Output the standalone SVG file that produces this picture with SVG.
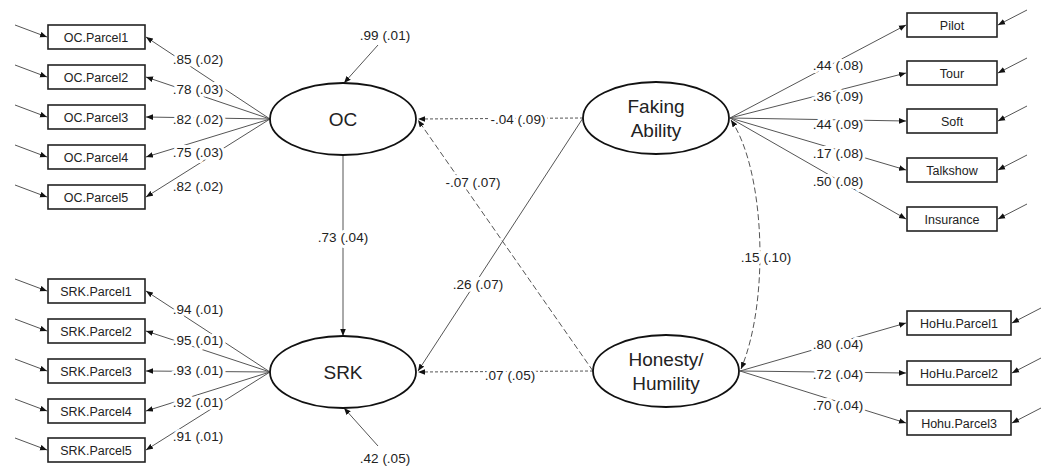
<svg xmlns="http://www.w3.org/2000/svg" width="1050" height="475" viewBox="0 0 1050 475">
<defs>
<marker id="ah" viewBox="0 0 10 10" refX="10" refY="5" markerWidth="7" markerHeight="7" orient="auto-start-reverse" markerUnits="userSpaceOnUse"><path d="M0,1 L10,5 L0,9 z" fill="#111"/></marker>
</defs>
<style>
text{font-family:"Liberation Sans",Arial,sans-serif;fill:#222}
.box rect{fill:#fff;stroke:#222;stroke-width:1.6}
.box text{font-size:12.5px;text-anchor:middle}
.lat ellipse{fill:#fff;stroke:#111;stroke-width:1.8}
.lat text{font-size:19px;text-anchor:middle}
.c line,.c path{stroke:#555;stroke-width:1;fill:none}
.a{marker-end:url(#ah)}
.d1{stroke-dasharray:3,2}
.d2{stroke-dasharray:6,3}
.lb{font-size:13.5px;text-anchor:middle;paint-order:stroke;stroke:#fff;stroke-width:6px;stroke-linejoin:round}
</style>
<rect width="1050" height="475" fill="#fff"/>
<g class="c" id="connectors">
<line class="a" x1="270" y1="119" x2="146" y2="37"/>
<line class="a" x1="270" y1="119" x2="146" y2="77"/>
<line class="a" x1="270" y1="119" x2="146" y2="117"/>
<line class="a" x1="270" y1="119" x2="146" y2="157"/>
<line class="a" x1="270" y1="119" x2="146" y2="197"/>
<line class="a" x1="270" y1="372" x2="146" y2="291"/>
<line class="a" x1="270" y1="372" x2="146" y2="331"/>
<line class="a" x1="270" y1="372" x2="146" y2="371"/>
<line class="a" x1="270" y1="372" x2="146" y2="411"/>
<line class="a" x1="270" y1="372" x2="146" y2="450"/>
<line class="a" x1="15" y1="25" x2="47" y2="37"/>
<line class="a" x1="15" y1="65" x2="47" y2="77"/>
<line class="a" x1="15" y1="105" x2="47" y2="117"/>
<line class="a" x1="15" y1="145" x2="47" y2="157"/>
<line class="a" x1="15" y1="185" x2="47" y2="197"/>
<line class="a" x1="15" y1="279" x2="47" y2="291"/>
<line class="a" x1="15" y1="319" x2="47" y2="331"/>
<line class="a" x1="15" y1="359" x2="47" y2="371"/>
<line class="a" x1="15" y1="399" x2="47" y2="411"/>
<line class="a" x1="15" y1="438" x2="47" y2="450"/>
<line class="a" x1="730" y1="118" x2="906" y2="25"/>
<line class="a" x1="730" y1="118" x2="906" y2="73"/>
<line class="a" x1="730" y1="118" x2="906" y2="121"/>
<line class="a" x1="730" y1="118" x2="906" y2="170"/>
<line class="a" x1="730" y1="118" x2="906" y2="219"/>
<line class="a" x1="740" y1="371" x2="906" y2="323"/>
<line class="a" x1="740" y1="371" x2="906" y2="373"/>
<line class="a" x1="740" y1="371" x2="906" y2="423"/>
<line class="a" x1="1027" y1="10" x2="998" y2="25"/>
<line class="a" x1="1027" y1="58" x2="998" y2="73"/>
<line class="a" x1="1027" y1="106" x2="998" y2="121"/>
<line class="a" x1="1027" y1="155" x2="998" y2="170"/>
<line class="a" x1="1027" y1="204" x2="998" y2="219"/>
<line class="a" x1="1041" y1="308" x2="1012" y2="323"/>
<line class="a" x1="1041" y1="358" x2="1012" y2="373"/>
<line class="a" x1="1041" y1="408" x2="1012" y2="423"/>
<line class="a" x1="378" y1="45" x2="344" y2="83"/>
<line class="a" x1="378" y1="446" x2="344" y2="408"/>
<line class="a" x1="343" y1="155" x2="343" y2="336"/>
<line class="a" x1="583" y1="118" x2="418" y2="371"/>
<line class="a d2" x1="593" y1="371" x2="418" y2="120"/>
<line class="a d1" x1="583" y1="118" x2="418" y2="119"/>
<line class="a d1" x1="593" y1="371" x2="418" y2="372"/>
<path class="d2" d="M731,120 C765,170 770,300 741,369" marker-start="url(#ah)" marker-end="url(#ah)"/>
</g>
<g id="labels">
<text class="lb" x="198" y="64">.85 (.02)</text>
<text class="lb" x="198" y="94">.78 (.03)</text>
<text class="lb" x="198" y="124">.82 (.02)</text>
<text class="lb" x="198" y="157">.75 (.03)</text>
<text class="lb" x="198" y="191">.82 (.02)</text>
<text class="lb" x="198" y="314">.94 (.01)</text>
<text class="lb" x="198" y="345">.95 (.01)</text>
<text class="lb" x="198" y="375">.93 (.01)</text>
<text class="lb" x="198" y="407">.92 (.01)</text>
<text class="lb" x="198" y="441">.91 (.01)</text>
<text class="lb" x="838" y="70">.44 (.08)</text>
<text class="lb" x="838" y="101">.36 (.09)</text>
<text class="lb" x="838" y="129">.44 (.09)</text>
<text class="lb" x="838" y="158">.17 (.08)</text>
<text class="lb" x="838" y="186">.50 (.08)</text>
<text class="lb" x="838" y="349">.80 (.04)</text>
<text class="lb" x="838" y="379">.72 (.04)</text>
<text class="lb" x="838" y="410">.70 (.04)</text>
<text class="lb" x="385" y="40">.99 (.01)</text>
<text class="lb" x="385" y="463">.42 (.05)</text>
<text class="lb" x="343" y="242">.73 (.04)</text>
<text class="lb" x="478" y="289">.26 (.07)</text>
<text class="lb" x="473" y="187">-.07 (.07)</text>
<text class="lb" x="518" y="124">-.04 (.09)</text>
<text class="lb" x="510" y="380">.07 (.05)</text>
<text class="lb" x="766" y="262">.15 (.10)</text>
</g>
<g id="OC" class="lat"><ellipse cx="343" cy="119" rx="73" ry="36"/><text x="343" y="126">OC</text></g>
<g id="SRK" class="lat"><ellipse cx="343" cy="372" rx="73" ry="36"/><text x="343" y="379">SRK</text></g>
<g id="Faking" class="lat"><ellipse cx="656" cy="118" rx="73" ry="36"/><text x="656" y="113">Faking</text><text x="656" y="137">Ability</text></g>
<g id="Honesty" class="lat"><ellipse cx="666" cy="371" rx="73" ry="36"/><text x="666" y="366">Honesty/</text><text x="666" y="390">Humility</text></g>
<g id="OCP1" class="box"><rect x="48" y="25" width="97" height="24"/><text x="96" y="41.5">OC.Parcel1</text></g>
<g id="OCP2" class="box"><rect x="48" y="65" width="97" height="24"/><text x="96" y="81.5">OC.Parcel2</text></g>
<g id="OCP3" class="box"><rect x="48" y="105" width="97" height="24"/><text x="96" y="121.5">OC.Parcel3</text></g>
<g id="OCP4" class="box"><rect x="48" y="145" width="97" height="24"/><text x="96" y="161.5">OC.Parcel4</text></g>
<g id="OCP5" class="box"><rect x="48" y="185" width="97" height="24"/><text x="96" y="201.5">OC.Parcel5</text></g>
<g id="SRKP1" class="box"><rect x="48" y="279" width="97" height="24"/><text x="96" y="295.5">SRK.Parcel1</text></g>
<g id="SRKP2" class="box"><rect x="48" y="319" width="97" height="24"/><text x="96" y="335.5">SRK.Parcel2</text></g>
<g id="SRKP3" class="box"><rect x="48" y="359" width="97" height="24"/><text x="96" y="375.5">SRK.Parcel3</text></g>
<g id="SRKP4" class="box"><rect x="48" y="399" width="97" height="24"/><text x="96" y="415.5">SRK.Parcel4</text></g>
<g id="SRKP5" class="box"><rect x="48" y="438" width="97" height="24"/><text x="96" y="454.5">SRK.Parcel5</text></g>
<g id="Pilot" class="box"><rect x="907" y="13" width="90" height="24"/><text x="952" y="29.5">Pilot</text></g>
<g id="Tour" class="box"><rect x="907" y="61" width="90" height="24"/><text x="952" y="77.5">Tour</text></g>
<g id="Soft" class="box"><rect x="907" y="109" width="90" height="24"/><text x="952" y="125.5">Soft</text></g>
<g id="Talkshow" class="box"><rect x="907" y="158" width="90" height="24"/><text x="952" y="174.5">Talkshow</text></g>
<g id="Insurance" class="box"><rect x="907" y="207" width="90" height="24"/><text x="952" y="223.5">Insurance</text></g>
<g id="HoHuP1" class="box"><rect x="907" y="311" width="104" height="24"/><text x="959" y="327.5">HoHu.Parcel1</text></g>
<g id="HoHuP2" class="box"><rect x="907" y="361" width="104" height="24"/><text x="959" y="377.5">HoHu.Parcel2</text></g>
<g id="HoHuP3" class="box"><rect x="907" y="411" width="104" height="24"/><text x="959" y="427.5">Hohu.Parcel3</text></g>
</svg>
